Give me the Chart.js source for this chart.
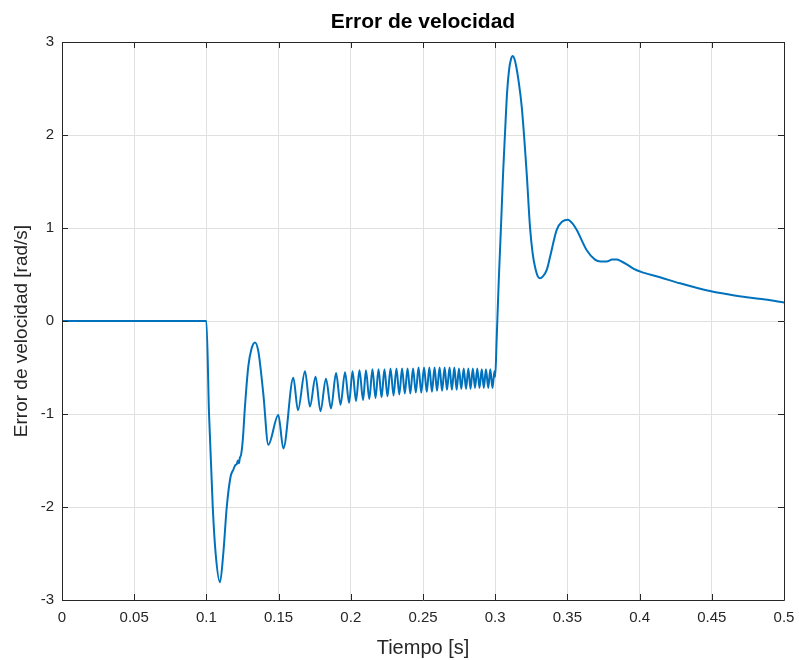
<!DOCTYPE html>
<html>
<head>
<meta charset="utf-8">
<script src="https://cdn.jsdelivr.net/npm/chart.js@4"></script>
<style>
  html, body { margin: 0; padding: 0; background: #ffffff; }
  #wrap { width: 799px; height: 660px; }
</style>
</head>
<body>
<div id="wrap"><canvas id="c" width="799" height="660"></canvas></div>
<script>
// Speed error of the drive over the simulation run
const timeS = [
  0, 0.05, 0.1000, 0.1018, 0.1044, 0.1064, 0.1094, 0.1117, 0.1141, 0.1168,
  0.1186, 0.1200, 0.1210, 0.1218, 0.1225, 0.1232, 0.1240, 0.1252, 0.1267, 0.1290,
  0.1312, 0.1337, 0.1360, 0.1394, 0.1429, 0.1498, 0.1533, 0.1602,
  0.1634, 0.1683, 0.1717, 0.1756, 0.1790, 0.1828, 0.1863, 0.1898, 0.1929, 0.1960,
  0.1988, 0.2012, 0.2036, 0.2060, 0.2085, 0.2105, 0.2128, 0.2150, 0.2171, 0.2192,
  0.2213, 0.2233, 0.2254, 0.2275, 0.2296, 0.2316, 0.2336, 0.2355, 0.2374, 0.2393,
  0.2412, 0.2431, 0.2450, 0.2469, 0.2488, 0.2507, 0.2526, 0.2544, 0.2562, 0.2580,
  0.2597, 0.2615, 0.2632, 0.2650, 0.2666, 0.2684, 0.2700, 0.2717, 0.2733, 0.2749,
  0.2765, 0.2782, 0.2798, 0.2814, 0.2829, 0.2845, 0.2860, 0.2876, 0.2891, 0.2907,
  0.2921, 0.2936, 0.2952, 0.2966, 0.2981, 0.2995,
  0.3000, 0.3010, 0.3025, 0.3040, 0.3055, 0.3068, 0.3082, 0.3096, 0.3110, 0.3121,
  0.3133, 0.3144, 0.3160, 0.3184, 0.3218, 0.3241, 0.3260, 0.3276, 0.3295, 0.3310,
  0.3330, 0.3357, 0.3380, 0.3426, 0.3465, 0.3502, 0.3535, 0.3564, 0.3634, 0.3691,
  0.3730, 0.3772, 0.3810, 0.3841, 0.3875, 0.3911, 0.3960, 0.4026, 0.4141, 0.4280,
  0.4400, 0.4510, 0.4620, 0.4742, 0.4870, 0.5000
];

const speedError = [
  0, 0, 0, -0.99, -2.00, -2.50, -2.81, -2.50, -2.00, -1.67,
  -1.60, -1.55, -1.54, -1.50, -1.53, -1.47, -1.44, -1.28, -0.92, -0.49,
  -0.30, -0.23, -0.33, -0.78, -1.33, -1.01, -1.37, -0.61,
  -0.96, -0.54, -0.92, -0.60, -0.97, -0.62, -0.94, -0.56, -0.90, -0.55,
  -0.88, -0.54, -0.86, -0.53, -0.85, -0.53, -0.84, -0.52, -0.83, -0.52,
  -0.82, -0.52, -0.81, -0.51, -0.80, -0.51, -0.79, -0.51, -0.78, -0.51,
  -0.78, -0.51, -0.77, -0.50, -0.77, -0.50, -0.76, -0.50, -0.76, -0.50,
  -0.75, -0.50, -0.75, -0.50, -0.74, -0.50, -0.74, -0.50, -0.74, -0.51,
  -0.73, -0.51, -0.73, -0.51, -0.73, -0.51, -0.72, -0.51, -0.72, -0.52,
  -0.72, -0.52, -0.72, -0.52, -0.72, -0.54,
  -0.60, -0.20, 0.45, 1.01, 1.60, 2.02, 2.45, 2.70, 2.82, 2.85,
  2.82, 2.75, 2.60, 2.30, 1.59, 1.01, 0.72, 0.58, 0.48, 0.46,
  0.48, 0.55, 0.69, 0.98, 1.07, 1.09, 1.05, 0.98, 0.76, 0.66,
  0.64, 0.64, 0.66, 0.66, 0.64, 0.61, 0.56, 0.52, 0.47, 0.405,
  0.355, 0.315, 0.285, 0.255, 0.23, 0.20
];

const xTickLabels = ['0', '0.05', '0.1', '0.15', '0.2', '0.25', '0.3', '0.35', '0.4', '0.45', '0.5'];
const yTickLabels = ['-3', '-2', '-1', '0', '1', '2', '3'];

const chartTitle = 'Error de velocidad';
const xTitle = 'Tiempo [s]';
const yTitle = 'Error de velocidad [rad/s]';

const FONT = "'Liberation Sans', Arial, Helvetica, sans-serif";
const AXIS_COLOR = '#262626';
const GRID_COLOR = '#e0e0e0';

const points = timeS.map((t, i) => ({ x: t, y: speedError[i] }));

// Box around the axes with inward tick marks on every side, the bold title
// and the rotated y-axis label
const axesBox = {
  id: 'axesBox',
  afterDatasetsDraw(chart) {
    const { ctx, chartArea: a, scales } = chart;
    const len = 6;
    ctx.save();
    ctx.strokeStyle = AXIS_COLOR;
    ctx.lineWidth = 1;
    ctx.beginPath();
    ctx.rect(Math.round(a.left) + 0.5, Math.round(a.top) + 0.5,
             Math.round(a.right - a.left), Math.round(a.bottom - a.top));
    ctx.stroke();
    ctx.beginPath();
    scales.x.ticks.forEach(tk => {
      const px = Math.round(scales.x.getPixelForValue(tk.value)) + 0.5;
      ctx.moveTo(px, a.bottom); ctx.lineTo(px, a.bottom - len);
      ctx.moveTo(px, a.top); ctx.lineTo(px, a.top + len);
    });
    scales.y.ticks.forEach(tk => {
      const py = Math.round(scales.y.getPixelForValue(tk.value)) + 0.5;
      ctx.moveTo(a.left, py); ctx.lineTo(a.left + len, py);
      ctx.moveTo(a.right, py); ctx.lineTo(a.right - len, py);
    });
    ctx.stroke();

    ctx.fillStyle = '#000000';
    ctx.font = 'bold 21px ' + FONT;
    ctx.textAlign = 'center';
    ctx.textBaseline = 'middle';
    ctx.fillText(chartTitle, (a.left + a.right) / 2, 22);

    ctx.fillStyle = AXIS_COLOR;
    ctx.font = '19px ' + FONT;
    ctx.translate(22, (a.top + a.bottom) / 2 + 10);
    ctx.rotate(-Math.PI / 2);
    ctx.fillText(yTitle, 0, 0);
    ctx.restore();
  }
};

new Chart(document.getElementById('c'), {
  type: 'line',
  data: {
    datasets: [{
      data: points,
      borderColor: '#0072BD',
      borderWidth: 2,
      pointRadius: 0,
      fill: false,
      cubicInterpolationMode: 'monotone'
    }]
  },
  options: {
    responsive: false,
    animation: false,
    devicePixelRatio: 1,
    layout: { padding: { top: 42, right: 15, left: 0, bottom: 0 } },
    plugins: { legend: { display: false }, tooltip: { enabled: false }, title: { display: false } },
    scales: {
      x: {
        type: 'linear',
        min: 0,
        max: 0.5,
        afterFit(s) { s.height = 60; s.paddingLeft = 0; s.paddingRight = 0; },
        afterBuildTicks(s) { s.ticks = xTickLabels.map(l => ({ value: parseFloat(l) })); },
        ticks: {
          autoSkip: false,
          maxRotation: 0,
          padding: 9,
          color: AXIS_COLOR,
          font: { family: FONT, size: 15 },
          callback: (v, i) => xTickLabels[i]
        },
        grid: { color: GRID_COLOR, drawTicks: false },
        border: { display: false },
        title: {
          display: true,
          text: xTitle,
          color: AXIS_COLOR,
          font: { family: FONT, size: 20 },
          padding: { top: 0, bottom: 0 }
        }
      },
      y: {
        type: 'linear',
        min: -3,
        max: 3,
        afterFit(s) { s.width = 62; s.paddingTop = 0; s.paddingBottom = 0; },
        afterBuildTicks(s) { s.ticks = yTickLabels.map(l => ({ value: parseFloat(l) })); },
        ticks: {
          autoSkip: false,
          padding: 8,
          color: AXIS_COLOR,
          font: { family: FONT, size: 15 },
          callback: (v, i) => yTickLabels[i]
        },
        grid: { color: GRID_COLOR, drawTicks: false },
        border: { display: false }
      }
    }
  },
  plugins: [axesBox]
});
</script>
</body>
</html>
